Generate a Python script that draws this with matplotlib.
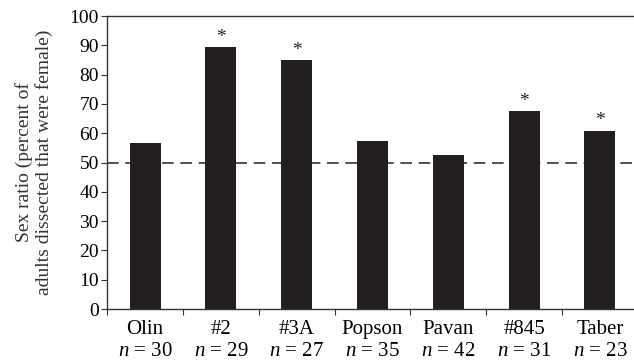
import matplotlib
matplotlib.use('Agg')
import matplotlib.pyplot as plt
import numpy as np

plt.rcParams['font.family'] = 'Liberation Serif'
plt.rcParams['mathtext.fontset'] = 'custom'
plt.rcParams['mathtext.rm'] = 'Liberation Serif'
plt.rcParams['mathtext.it'] = 'Liberation Serif:italic'

sites = ['Olin', '#2', '#3A', 'Popson', 'Pavan', '#845', 'Taber']
n_sizes = [30, 29, 27, 35, 42, 31, 23]
sex_ratio = [56.7, 89.4, 85.0, 57.3, 52.6, 67.6, 60.8]
significant = [False, True, True, False, False, True, True]

fig = plt.figure(figsize=(6.34, 3.64), dpi=100)
ax = fig.add_axes([0.169, 0.151, 0.837, 0.805])

x = np.arange(len(sites))
ax.bar(x, sex_ratio, width=0.41, color='#231f20', zorder=3)
ax.axhline(50, color='#333333', lw=1.2, dashes=(7, 4), zorder=2)

for xi, v, s in zip(x, sex_ratio, significant):
    if s:
        ax.annotate('*', (xi, v), xytext=(0, 1), textcoords='offset points',
                    ha='center', va='bottom', fontsize=14, color='#231f20')

ax.set_xlim(-0.5, len(sites) - 0.5)
ax.set_ylim(0, 100)
ax.set_yticks(range(0, 101, 10))
ax.tick_params(axis='y', labelsize=14, length=4, width=0.8, color='#333333', pad=2)

ax.set_xticks(np.arange(-0.5, len(sites) + 0.5, 1))
ax.set_xticklabels([])
ax.tick_params(axis='x', which='major', length=4, width=0.8, color='#333333')
ax.set_xticks(x, minor=True)
ax.set_xticklabels([f'{s}\n$n$ = {n}' for s, n in zip(sites, n_sizes)], minor=True,
                   fontsize=15, linespacing=1.2)
ax.tick_params(axis='x', which='minor', length=0, pad=8)

for side in ['left', 'bottom', 'top']:
    ax.spines[side].set_color('#333333')
    ax.spines[side].set_linewidth(1.0)
ax.spines['right'].set_visible(False)

ax.set_ylabel('Sex ratio (percent of\nadults dissected that were female)', fontsize=14,
              linespacing=1.1, labelpad=12, color='#333333')

fig.savefig('out.png', dpi=100)
